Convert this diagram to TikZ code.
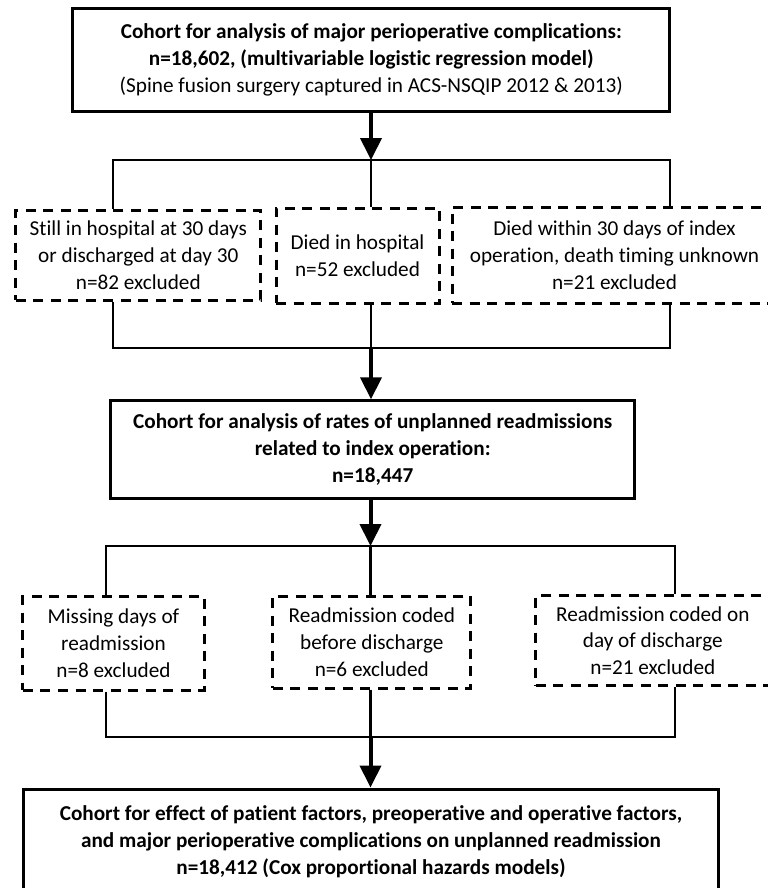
\documentclass[tikz,border=0pt]{standalone}
\usepackage{fontspec}
\setmainfont[Ligatures=NoCommon]{Carlito}
\usetikzlibrary{arrows.meta}
\newcommand{\chartfont}{\fontsize{21.3}{27}\selectfont}
\tikzset{
  cohort/.style={draw,line width=3bp,align=center,inner sep=1bp,
                 font=\chartfont\bfseries},
  excl/.style={draw,line width=3bp,dash pattern=on 10bp off 7.5bp,
               align=center,inner sep=1bp,font=\chartfont},
  ln/.style={line width=2.4bp},
  fl/.style={line width=4bp,-{Triangle[length=22bp,width=21bp]}},
}

\begin{document}
\begin{tikzpicture}[x=1bp,y=-1bp]
\useasboundingbox (0,0) rectangle (768,888);
% cohorts
\node[cohort,minimum width=597bp,minimum height=103bp] (all) at (371.3,59.7)
  {Cohort for analysis of major perioperative complications:\\
   n=18,602, (multivariable logistic regression model)\\
   {\mdseries (Spine fusion surgery captured in ACS-NSQIP 2012 \& 2013)}};
\node[cohort,minimum width=524bp,minimum height=98bp] (readm) at (372.7,449.8)
  {Cohort for analysis of rates of unplanned readmissions\\
   related to index operation:\\n=18,447};
\node[cohort,minimum width=694bp,minimum height=106bp] (final) at (371,842)
  {Cohort for effect of patient factors, preoperative and operative factors,\\
   and major perioperative complications on unplanned readmission\\
   n=18,412 (Cox proportional hazards models)};
% first exclusions
\node[excl,minimum width=245bp,minimum height=90bp] (stay) at (138.3,255)
  {Still in hospital at 30 days\\or discharged at day 30\\n=82 excluded};
\node[excl,minimum width=163bp,minimum height=95bp] (died) at (357.5,255.5)
  {Died in hospital\\n=52 excluded};
\node[excl,minimum width=325bp,minimum height=96bp] (unkn) at (614.5,255)
  {Died within 30 days of index\\operation, death timing unknown\\n=21 excluded};
% second exclusions
\node[excl,minimum width=181bp,minimum height=94bp] (miss) at (113.5,643)
  {Missing days of\\readmission\\n=8 excluded};
\node[excl,minimum width=198bp,minimum height=92bp] (before) at (371.8,642)
  {Readmission coded\\before discharge\\n=6 excluded};
\node[excl,minimum width=234bp,minimum height=90bp] (sameday) at (652.8,640.7)
  {Readmission coded on\\day of discharge\\n=21 excluded};
% junctions
\coordinate (s1) at (371,160);
\coordinate (s1l) at (112.7,160);
\coordinate (s1r) at (669.7,160);
\coordinate (m1) at (371,348);
\coordinate (m1l) at (112.7,348);
\coordinate (m1r) at (669.7,348);
\coordinate (s2) at (370.5,546);
\coordinate (s2l) at (106,546);
\coordinate (s2r) at (675,546);
\coordinate (m2) at (370.5,737);
\coordinate (m2l) at (106,737);
\coordinate (m2r) at (675,737);
% connectors
\draw[fl] (all.south -| s1) -- (s1);
\draw[ln] (s1l |- stay.north) -- (s1l) -- (s1r) -- (s1r |- unkn.north);
\draw[ln] (s1) -- (s1 |- died.north);
\draw[ln] (m1l |- stay.south) -- (m1l) -- (m1r) -- (m1r |- unkn.south);
\draw[ln] (m1 |- died.south) -- (m1);
\draw[fl] (m1) -- (m1 |- readm.north);
\draw[fl] (readm.south -| s2) -- (s2);
\draw[ln] (s2l |- miss.north) -- (s2l) -- (s2r) -- (s2r |- sameday.north);
\draw[ln] (s2) -- (s2 |- before.north);
\draw[ln] (m2l |- miss.south) -- (m2l) -- (m2r) -- (m2r |- sameday.south);
\draw[ln] (m2 |- before.south) -- (m2);
\draw[fl] (m2) -- (m2 |- final.north);
\end{tikzpicture}
\end{document}
